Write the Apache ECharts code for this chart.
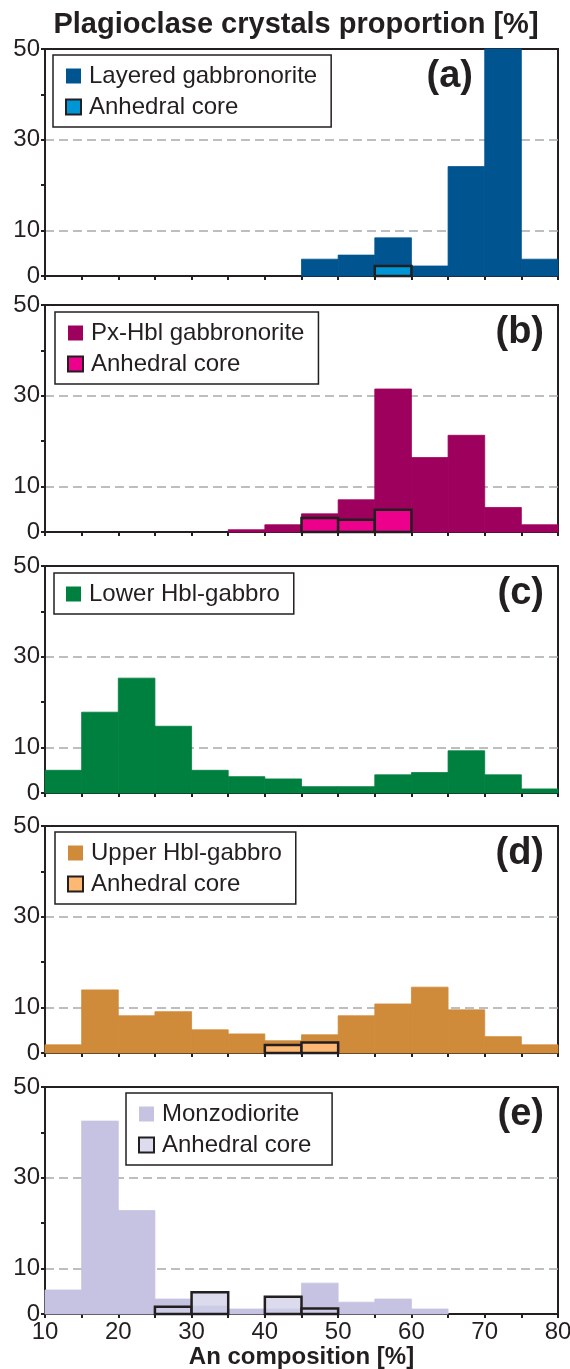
<!DOCTYPE html>
<html>
<head>
<meta charset="utf-8">
<script src="https://cdn.jsdelivr.net/npm/echarts@6/dist/echarts.min.js"></script>
<style>
html,body{margin:0;padding:0;background:#fff;}
#chart{width:570px;height:1369px;}
</style>
</head>
<body>
<div id="chart"></div>
<script>
// Bin edges (An composition, %)
const binEdges = [10,15,20,25,30,35,40,45,50,55,60,65,70,75,80];
const xTickLabels = [10,20,30,40,50,60,70,80];
const yTickLabels = [0,10,30,50];

// (a) Layered gabbronorite
const layeredGabbronorite = [0,0,0,0,0,0,0,3.7,4.6,8.4,2.2,24.1,50,3.7];
const coreA = [null,null,null,null,null,null,null,null,null,2.2,null,null,null,null];
// (b) Px-Hbl gabbronorite
const pxHblGabbronorite = [0,0,0,0,0,0.5,1.6,4.0,7.1,31.5,16.4,21.3,5.4,1.6];
const coreB = [null,null,null,null,null,null,null,3.1,2.7,4.9,null,null,null,null];
// (c) Lower Hbl-gabbro
const lowerHblGabbro = [5.0,17.8,25.3,14.7,5.0,3.6,3.1,1.4,1.4,4.0,4.5,9.3,4.0,0.9];
// (d) Upper Hbl-gabbro
const upperHblGabbro = [1.8,13.9,8.2,9.1,5.1,4.2,2.7,4.0,8.2,10.8,14.5,9.5,3.6,1.8];
const coreD = [null,null,null,null,null,null,1.75,2.3,null,null,null,null,null,null];
// (e) Monzodiorite
const monzodiorite = [5.3,42.5,22.8,3.3,1.75,1.1,1.1,6.8,2.6,3.3,1.1,0,0,0];
const coreE = [null,null,null,1.6,4.8,null,3.8,1.2,null,null,null,null,null,null];

const INK = '#231f20';
const FONT = 'Liberation Sans, Arial, Helvetica, sans-serif';

const panels = [
  {label:'(a)', main:'Layered gabbronorite', mainVals:layeredGabbronorite, mainColor:'#00548f',
   core:'Anhedral core', coreVals:coreA, coreColor:'#0096d6', top:49, legend:{left:53, top:55}, labelX:473},
  {label:'(b)', main:'Px-Hbl gabbronorite', mainVals:pxHblGabbronorite, mainColor:'#9e005d',
   core:'Anhedral core', coreVals:coreB, coreColor:'#ec008c', top:305, legend:{left:55, top:312}, labelX:544},
  {label:'(c)', main:'Lower Hbl-gabbro', mainVals:lowerHblGabbro, mainColor:'#00803f',
   core:null, coreVals:null, coreColor:null, top:566, legend:{left:54, top:573}, labelX:544},
  {label:'(d)', main:'Upper Hbl-gabbro', mainVals:upperHblGabbro, mainColor:'#cf8a3a',
   core:'Anhedral core', coreVals:coreD, coreColor:'#fdb874', top:826, legend:{left:55, top:832}, labelX:544},
  {label:'(e)', main:'Monzodiorite', mainVals:monzodiorite, mainColor:'#c5c3e1',
   core:'Anhedral core ', coreVals:coreE, coreColor:'rgba(208,206,232,0.74)', coreLegendColor:'#dddcee', top:1087, legend:{left:126, top:1093}, labelX:544}
];
const PANEL_H = 227;

function toRects(vals){
  const out = [];
  for (let i = 0; i < vals.length; i++) {
    if (vals[i] === null || vals[i] === 0) continue;
    out.push([binEdges[i], binEdges[i+1], vals[i]]);
  }
  return out;
}

function renderBar(params, api){
  const x0 = api.value(0), x1 = api.value(1), v = api.value(2);
  const p0 = api.coord([x0, v]);
  const p1 = api.coord([x1, 0]);
  return {
    type:'rect',
    shape:{x:p0[0], y:p0[1], width:p1[0]-p0[0], height:p1[1]-p0[1]},
    style: api.style()
  };
}

const grid = [], xAxis = [], yAxis = [], series = [], legend = [], graphic = [];

graphic.push({type:'text', x:296, y:25, z:100,
  style:{text:'Plagioclase crystals proportion [%]', font:'bold 29px ' + FONT, fill:INK,
         textAlign:'center', textVerticalAlign:'middle'}});

panels.forEach((p, i) => {
  const last = i === panels.length - 1;
  grid.push({left:45, width:513, top:p.top, height:PANEL_H, show:true,
             outerBoundsMode:'none', containLabel:false,
             borderColor:INK, borderWidth:2, backgroundColor:'transparent'});
  xAxis.push({
    type:'value', gridIndex:i, min:10, max:80, interval:5,
    axisLine:{show:true, onZero:false, lineStyle:{color:INK, width:2}},
    axisTick:{show:true, inside:false, length:4, lineStyle:{color:INK, width:2}},
    splitLine:{show:false},
    axisLabel:{show:last, margin:6, fontSize:24, fontFamily:FONT, color:INK,
      formatter:v => (xTickLabels.indexOf(v) >= 0 ? String(v) : '')},
    name: last ? 'An composition [%]' : '',
    nameLocation:'middle', nameGap:30,
    nameTextStyle:{fontSize:24, fontWeight:'bold', fontFamily:FONT, color:INK}
  });
  yAxis.push({
    type:'value', gridIndex:i, min:0, max:50, interval:10,
    axisLine:{show:true, lineStyle:{color:INK, width:2}},
    axisTick:{show:true, inside:false, length:4, lineStyle:{color:INK, width:2}},
    axisLabel:{show:true, margin:5, fontSize:24, fontFamily:FONT, color:INK,
      formatter:v => (yTickLabels.indexOf(v) >= 0 ? String(v) : '')},
    splitLine:{show:true, lineStyle:{type:[9,5], width:1.5,
      color:['rgba(0,0,0,0)','#a7a9ac','rgba(0,0,0,0)','#a7a9ac','rgba(0,0,0,0)','rgba(0,0,0,0)']}}
  });
  series.push({
    type:'custom', name:p.main, xAxisIndex:i, yAxisIndex:i, z:2,
    renderItem:renderBar, encode:{x:[0,1], y:2},
    itemStyle:{color:p.mainColor, borderColor:p.mainColor, borderWidth:0.8},
    data:toRects(p.mainVals), silent:true
  });
  const legendData = [{name:p.main, itemStyle:{color:p.mainColor, borderWidth:0}}];
  if (p.core) {
    series.push({
      type:'custom', name:p.core, xAxisIndex:i, yAxisIndex:i, z:3,
      renderItem:renderBar, encode:{x:[0,1], y:2},
      itemStyle:{color:p.coreColor, borderColor:INK, borderWidth:2.5},
      data:toRects(p.coreVals), silent:true
    });
    legendData.push({name:p.core, itemStyle:{color:p.coreLegendColor || p.coreColor, borderColor:INK, borderWidth:2}});
  }
  legend.push({
    left:p.legend.left, top:p.legend.top, orient:'vertical', selectedMode:false,
    data:legendData, icon:'rect', itemWidth:15, itemHeight:15, itemGap:7,
    padding:[9,14,8,12], borderColor:INK, borderWidth:1.5, backgroundColor:'#fff',
    textStyle:{fontSize:24, fontFamily:FONT, color:INK, padding:[0,0,0,3]}
  });
  graphic.push({type:'text', x:p.labelX, y:p.top + 28, z:100,
    style:{text:p.label, font:'bold 38px ' + FONT, fill:INK, textAlign:'right', textVerticalAlign:'middle'}});
});

const chart = echarts.init(document.getElementById('chart'), null, {renderer:'canvas'});
chart.setOption({
  animation:false,
  backgroundColor:'#fff',
  grid, xAxis, yAxis, series, legend, graphic
});
</script>
</body>
</html>
